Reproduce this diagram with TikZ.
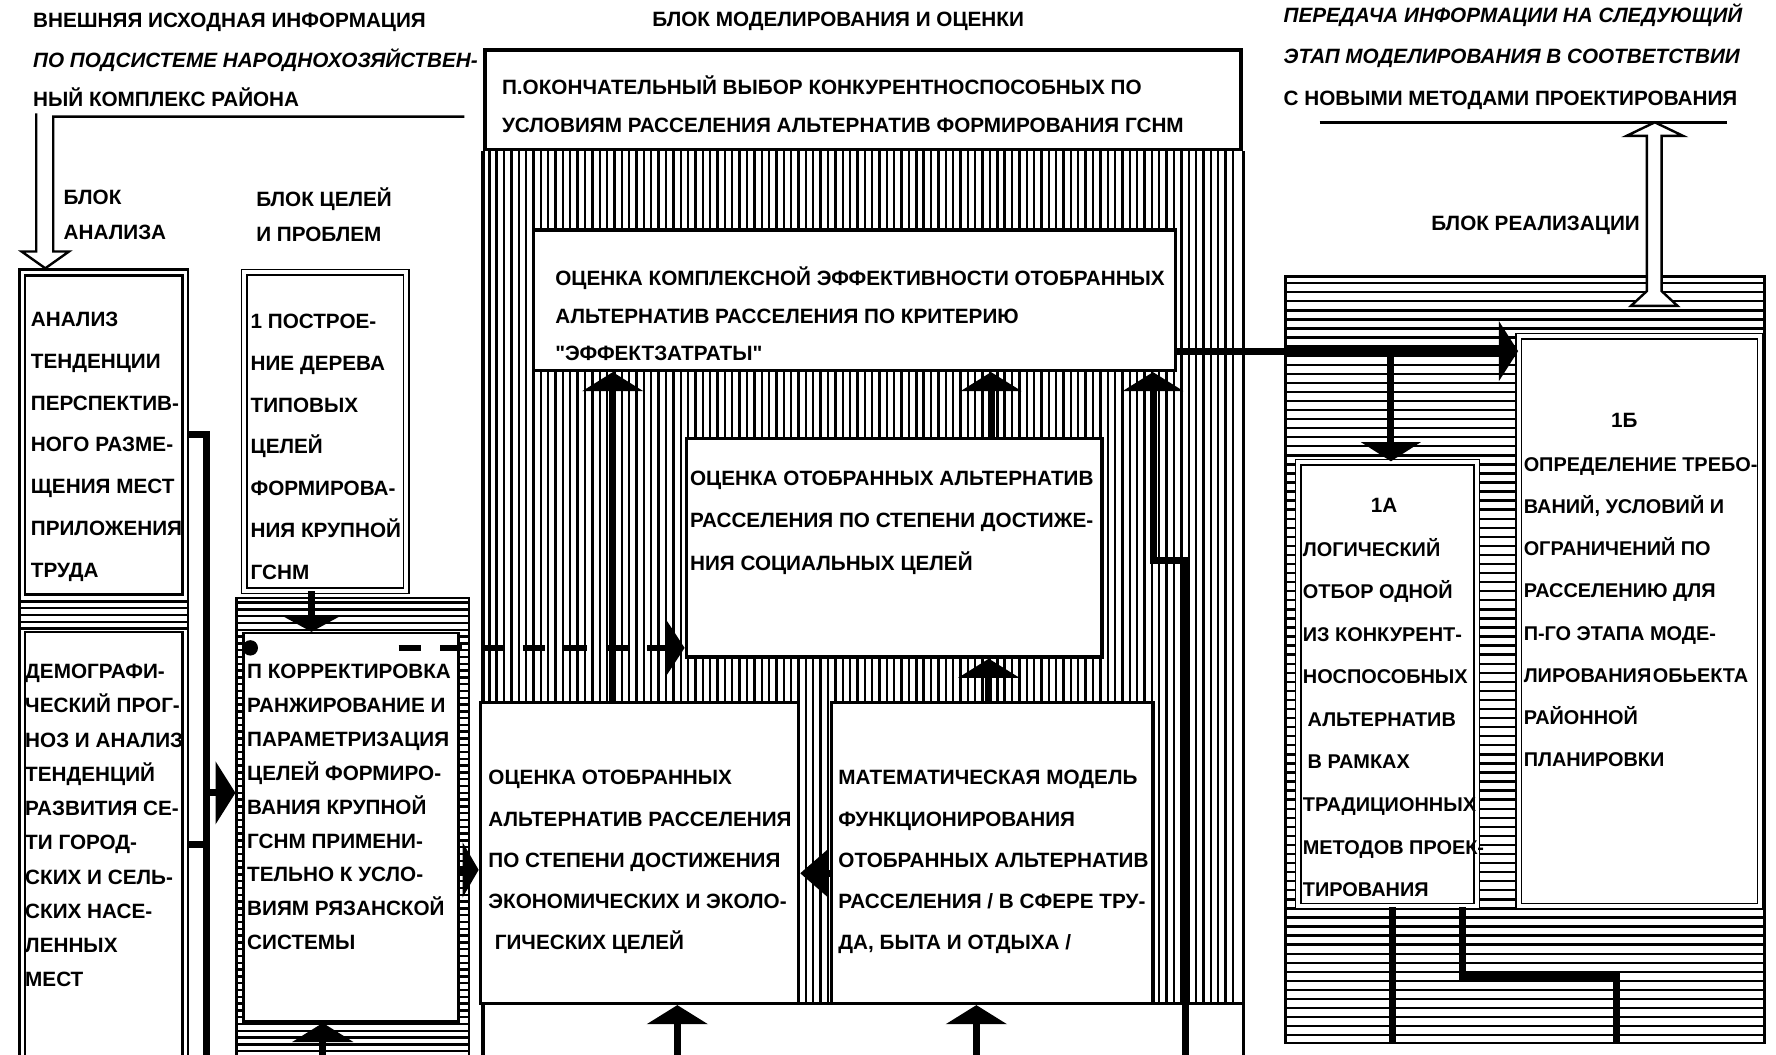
\documentclass[tikz,border=0pt]{standalone}
\usepackage{fontspec}
\setmainfont{Liberation Sans}[Ligatures=TeXOff]
\usetikzlibrary{arrows.meta,fit}

\newcommand{\boxfont}[1]{\bfseries\fontsize{13}{#1}\selectfont}
\newcommand{\narrowfont}[1]{\bfseries\fontsize{12.5}{#1}\selectfont}

\tikzset{
  box/.style={draw, line width=1.6pt, fill=white, inner sep=0pt},
  dblbox/.style={draw, double, double distance=2.4pt, line width=1pt, fill=white, inner sep=0pt},
  heavybox/.style={draw, line width=2.4pt, fill=white, inner sep=0pt},
  zone/.style={draw, line width=1.6pt, inner sep=0pt},
  txt/.style={inner sep=0pt, align=left, anchor=west},
  hatch/.style={line width=1.5pt},
  frame/.style={line width=2.2pt},
  conn/.style={line width=4.4pt},
  uptip/.style={-{Triangle[width=38pt,length=12pt]}},
  sidetip/.style={-{Triangle[width=37pt,length=12pt]}},
  hollow/.style={line width=1.5pt, line join=miter},
}

\begin{document}
\begin{tikzpicture}[x=0.025cm, y=-0.025cm]
    \useasboundingbox (0,0) rectangle (1568,931);
    \fill[white] (0,0) rectangle (1568,931);
    \clip (0,0) rectangle (1568,931);

    % Hatching
    \foreach \x in {432,438.5,...,1093} {
      \draw[hatch] (\x,132) -- (\x,886);
    }
    \foreach \y in {250,258,...,918} {
      \draw[hatch] (1135,\y) -- (1558,\y);
    }
    \foreach \y in {531,537,...,556} {
      \draw[hatch] (17,\y) -- (166,\y);
    }
    \foreach \y in {532,538,...,935} {
      \draw[hatch] (209,\y) -- (414,\y);
    }

    % Analysis block
    \node[zone, fit={(17,238) (166,940)}] (LC) {};
    \node[box, fit={(22,243) (161,525)}] (B1) {};
    \node[box, fit={(22,558) (161,940)}] (B2) {};

    % Goals block
    \node[dblbox, fit={(215.5,240.5) (358.5,521.5)}] (B3) {};
    \node[zone, fit={(209,528) (414,940)}] (G) {};
    \node[box, fit={(215,559) (405,902)}] (B4) {};

    % Modelling block
    \node[heavybox, fit={(428,44) (1096,132)}] (T) {};
    \draw[frame] (T.south west) -- (T.south west |- 0,940);
    \draw[frame] (T.south east) -- (T.south east |- 0,940);
    \draw[frame] (T.south west |- 0,886) -- (T.south east |- 0,886);
    \node[heavybox, line width=2.2pt, fit={(471,203) (1038,327)}] (E) {};
    \node[heavybox, line width=2.2pt, fit={(606,387) (973,580)}] (S) {};
    \node[box, line width=2pt, fit={(424,620) (705,886)}] (C) {};
    \node[box, line width=2pt, fit={(734,620) (1018,886)}] (M) {};

    % Realisation block
    \node[zone, fit={(1135,244) (1558,921)}] (R) {};
    \node[dblbox, fit={(1146,408) (1304,800)}] (R1A) {};
    \node[dblbox, fit={(1341,297) (1554,800)}] (R1B) {};

    % Headings
    \node[txt, font=\boxfont{24.9pt}] (hdrA) at (29,53)
      {ВНЕШНЯЯ ИСХОДНАЯ ИНФОРМАЦИЯ\\\textit{ПО ПОДСИСТЕМЕ НАРОДНОХОЗЯЙСТВЕН-}\\НЫЙ КОМПЛЕКС РАЙОНА};
    \node[inner sep=0pt, font=\boxfont{20pt}] (hdrM) at (740,19) {БЛОК МОДЕЛИРОВАНИЯ И ОЦЕНКИ};
    \node[txt, font=\boxfont{26.3pt}] (hdrR) at (1133,50)
      {\textit{ПЕРЕДАЧА ИНФОРМАЦИИ НА СЛЕДУЮЩИЙ}\\\textit{ЭТАП МОДЕЛИРОВАНИЯ В СООТВЕТСТВИИ}\\С НОВЫМИ МЕТОДАМИ ПРОЕКТИРОВАНИЯ};
    \node[txt, font=\boxfont{22pt}] (lblA) at (56,190) {БЛОК\\АНАЛИЗА};
    \node[txt, font=\boxfont{22pt}] (lblG) at (226,190) {БЛОК ЦЕЛЕЙ\\И ПРОБЛЕМ};
    \node[inner sep=0pt, anchor=east, font=\boxfont{20pt}] (lblR) at (1448,199) {БЛОК РЕАЛИЗАЦИИ};

    % Box texts
    \node[txt, font=\boxfont{26.2pt}] (B1t) at (27,394.5)
      {АНАЛИЗ\\ТЕНДЕНЦИИ\\ПЕРСПЕКТИВ-\\НОГО РАЗМЕ-\\ЩЕНИЯ МЕСТ\\ПРИЛОЖЕНИЯ\\ТРУДА};
    \node[txt, font=\boxfont{21.5pt}] (B2t) at (22,729)
      {ДЕМОГРАФИ-\\ЧЕСКИЙ ПРОГ-\\НОЗ И АНАЛИЗ\\ТЕНДЕНЦИЙ\\РАЗВИТИЯ СЕ-\\ТИ ГОРОД-\\СКИХ И СЕЛЬ-\\СКИХ НАСЕ-\\ЛЕННЫХ\\МЕСТ};
    \node[txt, font=\boxfont{26.2pt}] (B3t) at (221,394.5)
      {1 ПОСТРОЕ-\\НИЕ ДЕРЕВА\\ТИПОВЫХ\\ЦЕЛЕЙ\\ФОРМИРОВА-\\НИЯ КРУПНОЙ\\ГСНМ};
    \node[txt, font=\boxfont{21.3pt}] (B4t) at (218,712.5)
      {П КОРРЕКТИРОВКА\\РАНЖИРОВАНИЕ И\\ПАРАМЕТРИЗАЦИЯ\\ЦЕЛЕЙ ФОРМИРО-\\ВАНИЯ КРУПНОЙ\\ГСНМ ПРИМЕНИ-\\ТЕЛЬНО К УСЛО-\\ВИЯМ РЯЗАНСКОЙ\\СИСТЕМЫ};
    \node[txt, font=\boxfont{24.2pt}] (Tt) at (443,92)
      {П.ОКОНЧАТЕЛЬНЫЙ ВЫБОР КОНКУРЕНТНОСПОСОБНЫХ ПО\\УСЛОВИЯМ РАССЕЛЕНИЯ АЛЬТЕРНАТИВ ФОРМИРОВАНИЯ ГСНМ};
    \node[txt, font=\boxfont{23.5pt}] (Et) at (490,277)
      {ОЦЕНКА КОМПЛЕКСНОЙ ЭФФЕКТИВНОСТИ ОТОБРАННЫХ\\АЛЬТЕРНАТИВ РАССЕЛЕНИЯ ПО КРИТЕРИЮ\\"ЭФФЕКТЗАТРАТЫ"};
    \node[txt, font=\boxfont{26.7pt}] (St) at (609,461.5)
      {ОЦЕНКА ОТОБРАННЫХ АЛЬТЕРНАТИВ\\РАССЕЛЕНИЯ ПО СТЕПЕНИ ДОСТИЖЕ-\\НИЯ СОЦИАЛЬНЫХ ЦЕЛЕЙ};
    \node[txt, font=\boxfont{25.8pt}] (Ct) at (431,761)
      {ОЦЕНКА ОТОБРАННЫХ\\АЛЬТЕРНАТИВ РАССЕЛЕНИЯ\\ПО СТЕПЕНИ ДОСТИЖЕНИЯ\\ЭКОНОМИЧЕСКИХ И ЭКОЛО-\\\hspace*{4pt}ГИЧЕСКИХ ЦЕЛЕЙ};
    \node[txt, font=\boxfont{25.8pt}] (Mt) at (740,761)
      {МАТЕМАТИЧЕСКАЯ МОДЕЛЬ\\ФУНКЦИОНИРОВАНИЯ\\ОТОБРАННЫХ АЛЬТЕРНАТИВ\\РАССЕЛЕНИЯ / В СФЕРЕ ТРУ-\\ДА, БЫТА И ОТДЫХА /};
    \node[inner sep=0pt, font=\boxfont{20pt}] (R1Anum) at (1222,446) {1А};
    \node[txt, font=\narrowfont{26.7pt}] (R1At) at (1150,633.5)
      {ЛОГИЧЕСКИЙ\\ОТБОР ОДНОЙ\\ИЗ КОНКУРЕНТ-\\НОСПОСОБНЫХ\\\hspace*{3pt}АЛЬТЕРНАТИВ\\\hspace*{3pt}В РАМКАХ\\ТРАДИЦИОННЫХ\\МЕТОДОВ ПРОЕК-\\ТИРОВАНИЯ};
    \node[inner sep=0pt, font=\boxfont{20pt}] (R1Bnum) at (1434,371) {1Б};
    \node[txt, font=\narrowfont{26.5pt}] (R1Bt) at (1345,540.5)
      {ОПРЕДЕЛЕНИЕ ТРЕБО-\\ВАНИЙ, УСЛОВИЙ И\\ОГРАНИЧЕНИЙ ПО\\РАССЕЛЕНИЮ ДЛЯ\\П-ГО ЭТАПА МОДЕ-\\ЛИРОВАНИЯ\hspace{1pt}ОБЬЕКТА\\РАЙОННОЙ\\ПЛАНИРОВКИ};

    % Outside information in and out
    \coordinate (ulA) at (410,103);
    \draw[hollow] (ulA) -- (47,103) -- (47,222) -- (61,222) -- (LC.north -| 40,0)
      -- (19,222) -- (32,222) -- (32,100);
    \draw[hollow] (1165,108) -- (1525,108);
    \filldraw[hollow, fill=white] (1440,270) -- (1454,257) -- (1454,120) -- (1436,120)
      -- (1461,108) -- (1486,120) -- (1467,120) -- (1467,257) -- (1481,270) -- cycle;

    % Analysis -> goals
    \coordinate (busTop) at (182,384);
    \coordinate (busEnd) at (182,935);
    \draw[conn] (LC.east |- busTop) -- (busTop) -- (busEnd);
    \draw[conn] (LC.east |- 0,746) -- (busTop |- 0,746);
    \draw[conn, -{Triangle[width=39pt,length=12.5pt]}] (busTop |- 0,700) -- (G.west |- 0,700);

    % Goals
    \draw[conn, -{Triangle[width=36pt,length=10pt]}] (B3.south -| 275,0) -- (B4.north -| 275,0);
    \coordinate (inG) at (285,935);
    \draw[conn, uptip] (inG) -- (B4.south -| inG);
    \node[circle, fill, inner sep=0pt, minimum size=0.34cm] (dot) at (221,572) {};
    \coordinate (dashA) at (352,572);
    \draw[conn, line width=3.6pt, dash pattern=on 14pt off 12pt,
      -{Triangle[width=36pt,length=12pt]}] (dashA) -- (S.west |- dashA);
    \draw[conn, -{Triangle[width=34pt,length=10pt]}] (B4.east |- 0,768) -- (C.west |- 0,768);

    % Modelling
    \draw[conn, uptip] (C.north -| 541,0) -- (E.south -| 541,0);
    \draw[conn, uptip] (S.north -| 875,0) -- (E.south -| 875,0);
    \draw[conn, uptip] (M.north -| 873,0) -- (S.south -| 873,0);
    \draw[conn, -{Triangle[width=30pt,length=18pt]}] (M.west |- 0,771) -- (C.east |- 0,771);
    \coordinate (fbIn) at (1047,935);
    \draw[conn, uptip] (fbIn) -- (fbIn |- 0,495) -- (1018,495) -- (E.south -| 1018,0);
    \coordinate (inC) at (598,935);
    \coordinate (inM) at (862,935);
    \draw[conn, uptip] (inC) -- (C.south -| inC);
    \draw[conn, uptip] (inM) -- (M.south -| inM);

    % Realisation
    \coordinate (split) at (1228,310);
    \draw[conn, sidetip] (E.east |- split) -- (R1B.west |- split);
    \draw[conn, -{Triangle[width=37pt,length=12pt]}] (split) -- (R1A.north -| split);
    \draw[conn] (R1A.south -| 1229,0) -- (R.south -| 1229,0);
    \draw[conn] (R1A.south -| 1291,0) -- (1291,862) -- (1427,862) -- (R.south -| 1427,0);
\end{tikzpicture}
\end{document}
